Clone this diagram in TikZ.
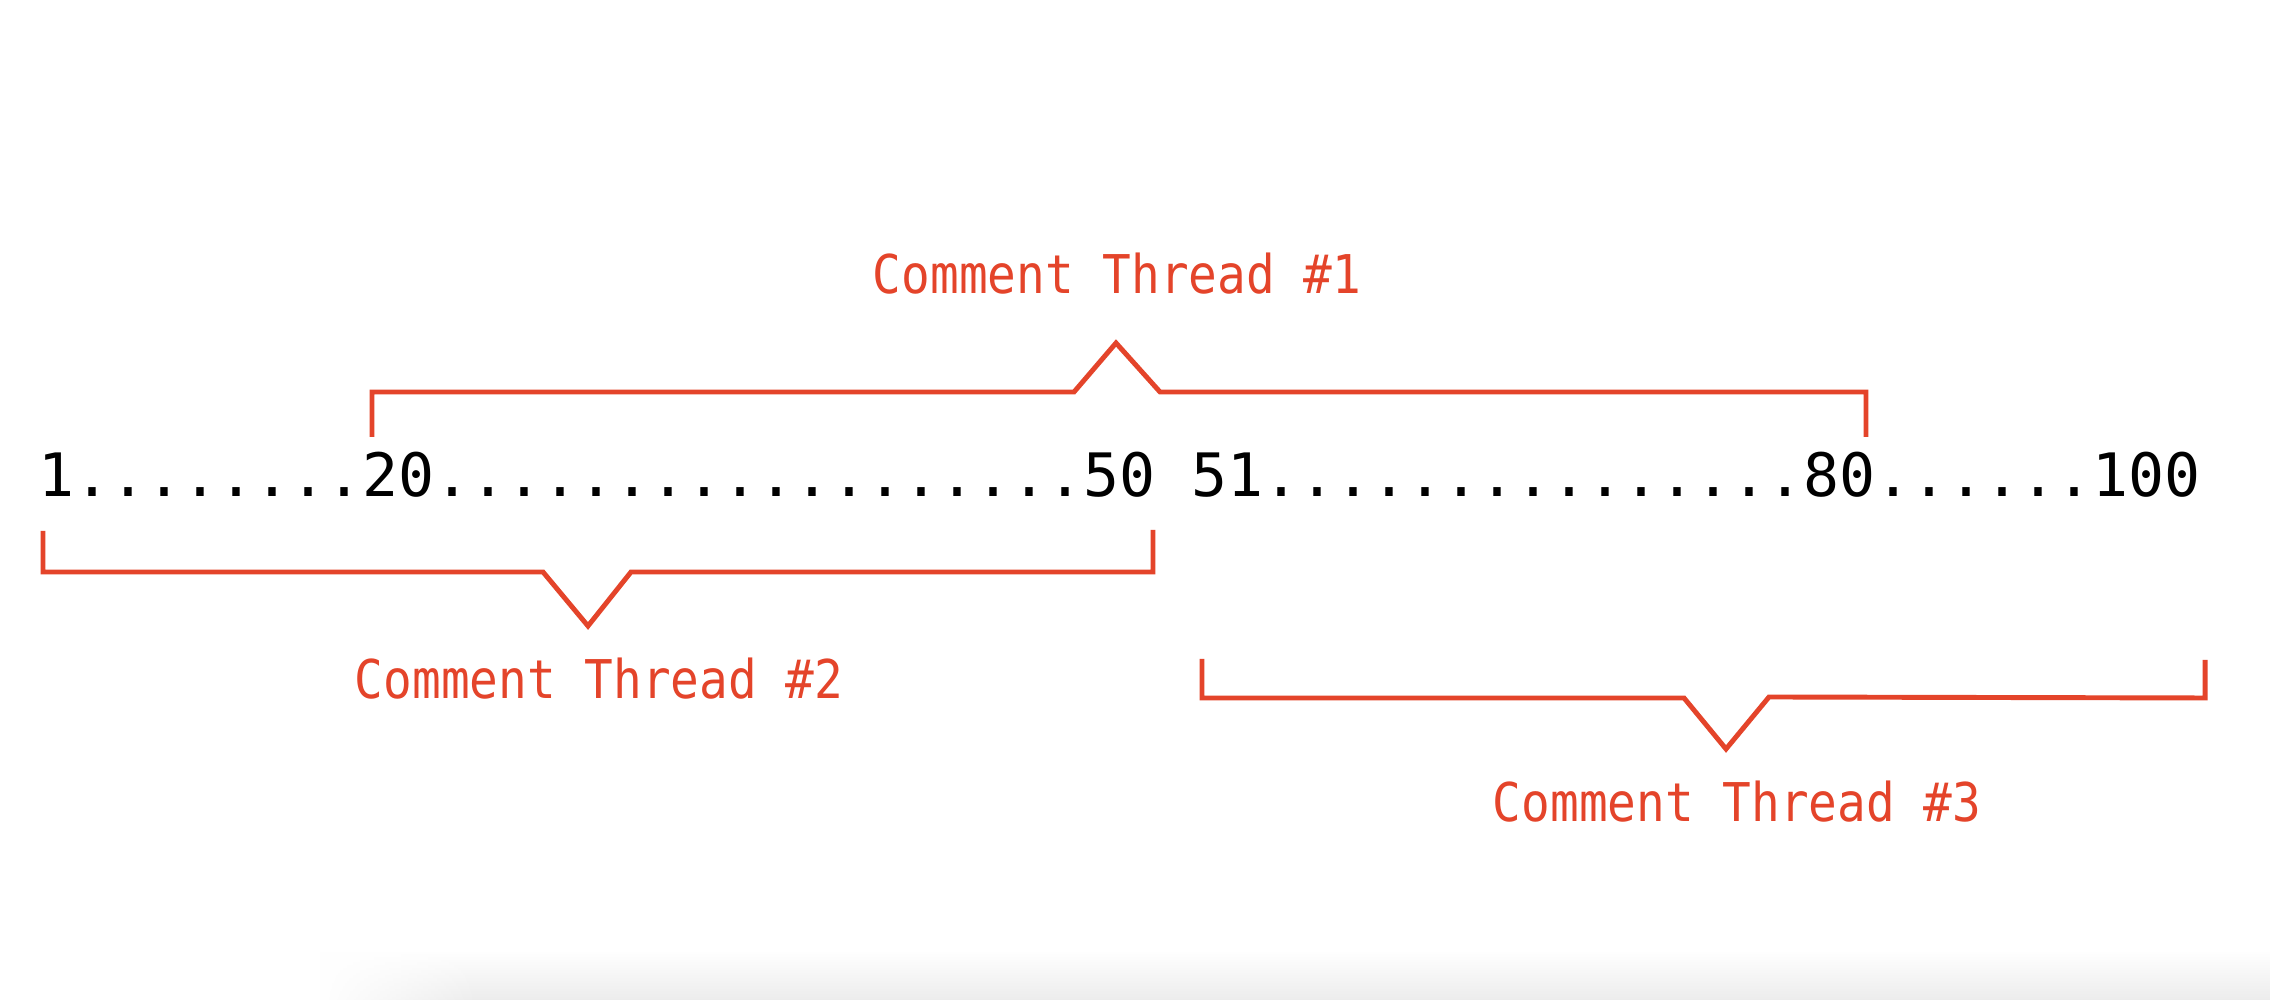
\documentclass[tikz,border=0pt]{standalone}
\usepackage{fontspec}
\usepackage{xcolor}
\usetikzlibrary{fadings}
\setmonofont{DejaVu Sans Mono}
\definecolor{rot}{RGB}{228,68,42}
\definecolor{schatten}{RGB}{236,236,236}
\newcommand{\zahlfont}{\ttfamily\fontsize{17.03pt}{20pt}\selectfont}
\newcommand{\threadfont}{\ttfamily\fontsize{13.57pt}{16pt}\selectfont}

\begin{document}
\begin{tikzpicture}[klammer/.style={rot, line width=1.4pt, line join=miter},
    threadlabel/.style={rot, anchor=base, inner sep=0pt, font=\threadfont}]
    % Rahmen
    \useasboundingbox (0,0) rectangle (22.7,10);
    \fill[white] (0,0) rectangle (22.7,10);
    % Schatten unten
    \shade[top color=white, bottom color=schatten, path fading=west] (3.2,0) rectangle (4.8,0.5);
    \shade[top color=white, bottom color=schatten] (4.8,0) rectangle (22.7,0.5);

    % Zahlenreihe
    \node[anchor=base west, inner sep=0pt, font=\zahlfont] (zahlen) at (0.376,5.03)
        {1........20..................50 51...............80......100};

    % Klammer oben (20 bis 80)
    \draw[klammer] (3.72,5.63) -- (3.72,6.08) -- (10.74,6.08) -- (11.16,6.57)
        -- (11.60,6.08) -- (18.66,6.08) -- (18.66,5.63);
    % Klammer unten links (1 bis 50)
    \draw[klammer] (0.43,4.69) -- (0.43,4.28) -- (5.43,4.28) -- (5.88,3.74)
        -- (6.31,4.28) -- (11.53,4.28) -- (11.53,4.70);
    % Klammer unten rechts (51 bis 100)
    \draw[klammer] (12.02,3.41) -- (12.02,3.02) -- (16.84,3.02) -- (17.26,2.51)
        -- (17.69,3.03) -- (22.05,3.02) -- (22.05,3.40);

    % Beschriftungen
    \node[threadlabel] (thread1) at (11.17,7.06) {\scalebox{1}[1.12]{Comment Thread \#1}};
    \node[threadlabel] (thread2) at (5.99,3.01) {\scalebox{1}[1.12]{Comment Thread \#2}};
    \node[threadlabel] (thread3) at (17.37,1.78) {\scalebox{1}[1.12]{Comment Thread \#3}};
\end{tikzpicture}
\end{document}
